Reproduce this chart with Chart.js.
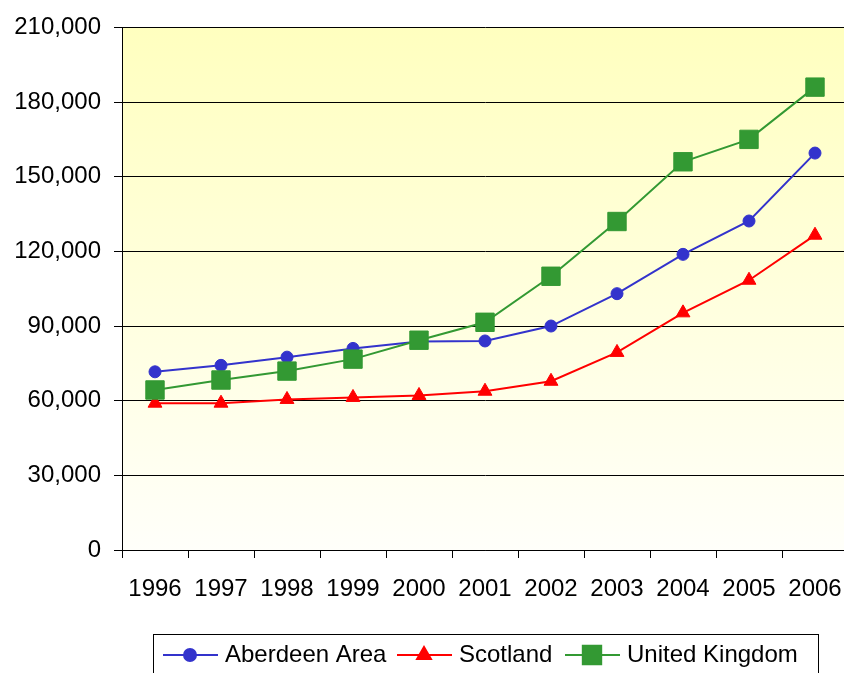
<!DOCTYPE html>
<html>
<head>
<meta charset="utf-8">
<script src="https://cdn.jsdelivr.net/npm/chart.js@4/dist/chart.umd.min.js"></script>
<style>
  html, body { margin: 0; padding: 0; background: #fff; overflow: hidden; }
  #wrap { width: 844px; height: 673px; overflow: hidden; }
  canvas { display: block; }
</style>
</head>
<body>
<div id="wrap"><canvas id="chart" width="862" height="673"></canvas></div>
<script>
const years = ['1996', '1997', '1998', '1999', '2000', '2001', '2002', '2003', '2004', '2005', '2006'];
const aberdeen = [71600, 74200, 77500, 81000, 83800, 84000, 90000, 103000, 118800, 132200, 159500];
const scotland = [59000, 59000, 60500, 61300, 62100, 63800, 67800, 79400, 95300, 108400, 126500];
const uk = [64300, 68300, 71900, 76700, 84300, 91500, 110000, 132000, 156000, 165000, 186000];

const FONT = "'Liberation Sans', Arial, sans-serif";

// yellow fade behind the plot area
const plotBg = {
  id: 'plotBg',
  beforeDraw(chart) {
    const { ctx, chartArea: a } = chart;
    const g = ctx.createLinearGradient(0, a.top, 0, a.bottom);
    g.addColorStop(0, '#ffffbf');
    g.addColorStop(1, '#fffffa');
    ctx.save();
    ctx.fillStyle = g;
    ctx.fillRect(a.left, a.top, a.right - a.left, a.bottom - a.top);
    ctx.restore();
  }
};

// boxed legend at the bottom, line + marker per series
const boxLegend = {
  id: 'boxLegend',
  afterDraw(chart) {
    const ctx = chart.ctx;
    const cy = 655;
    ctx.save();
    ctx.fillStyle = '#fff';
    ctx.fillRect(153.5, 634.5, 665, 60);
    ctx.strokeStyle = '#000';
    ctx.lineWidth = 1;
    ctx.strokeRect(153.5, 634.5, 665, 60);
    const starts = [163, 397, 565];
    chart.data.datasets.forEach((ds, i) => {
      const x0 = starts[i];
      ctx.strokeStyle = ds.borderColor;
      ctx.lineWidth = 2;
      ctx.beginPath();
      ctx.moveTo(x0, cy);
      ctx.lineTo(x0 + 55, cy);
      ctx.stroke();
      ctx.fillStyle = ds.pointBackgroundColor;
      ctx.strokeStyle = ds.borderColor;
      Chart.helpers.drawPoint(ctx, {
        pointStyle: ds.pointStyle,
        radius: ds.pointRadius,
        borderWidth: ds.pointBorderWidth,
        rotation: 0
      }, x0 + 27, cy);
      ctx.fillStyle = '#000';
      ctx.font = '24px ' + FONT;
      ctx.textBaseline = 'middle';
      ctx.textAlign = 'left';
      ctx.fillText(ds.label, x0 + 62, cy);
    });
    ctx.restore();
  }
};

new Chart(document.getElementById('chart'), {
  type: 'line',
  data: {
    labels: years,
    datasets: [
      {
        label: 'Aberdeen Area',
        data: aberdeen,
        borderColor: '#3333cc',
        backgroundColor: '#3333cc',
        pointBackgroundColor: '#3333cc',
        pointStyle: 'circle',
        pointRadius: 6,
        pointBorderWidth: 1,
        borderWidth: 2,
        order: 2
      },
      {
        label: 'Scotland',
        data: scotland,
        borderColor: '#ff0000',
        backgroundColor: '#ff0000',
        pointBackgroundColor: '#ff0000',
        pointStyle: 'triangle',
        pointRadius: 8,
        pointBorderWidth: 1,
        borderWidth: 2,
        order: 3
      },
      {
        label: 'United Kingdom',
        data: uk,
        borderColor: '#339933',
        backgroundColor: '#339933',
        pointBackgroundColor: '#339933',
        pointStyle: 'rect',
        pointRadius: 13,
        pointBorderWidth: 1,
        borderWidth: 2,
        order: 1
      }
    ]
  },
  options: {
    responsive: false,
    animation: false,
    layout: { padding: { top: 25, right: 4, left: 0, bottom: 0 } },
    plugins: {
      legend: { display: false },
      tooltip: { enabled: false }
    },
    scales: {
      x: {
        offset: true,
        grid: { offset: true, drawOnChartArea: false, drawTicks: true, tickLength: 8, color: '#000' },
        border: { color: '#000', width: 1 },
        ticks: { color: '#000', font: { family: FONT, size: 24 }, maxRotation: 0, autoSkip: false, padding: 17 },
        afterFit(scale) {
          scale.height = 123;
          scale.paddingLeft = 0;
          scale.paddingRight = 0;
        }
      },
      y: {
        min: 0,
        max: 210000,
        grid: { color: '#000', tickLength: 8 },
        border: { color: '#000', width: 1 },
        ticks: {
          stepSize: 30000,
          color: '#000',
          font: { family: FONT, size: 24 },
          padding: 13,
          callback: v => v.toLocaleString('en-US')
        },
        afterFit(scale) { scale.width = 122; }
      }
    }
  },
  plugins: [plotBg, boxLegend]
});
</script>
</body>
</html>
